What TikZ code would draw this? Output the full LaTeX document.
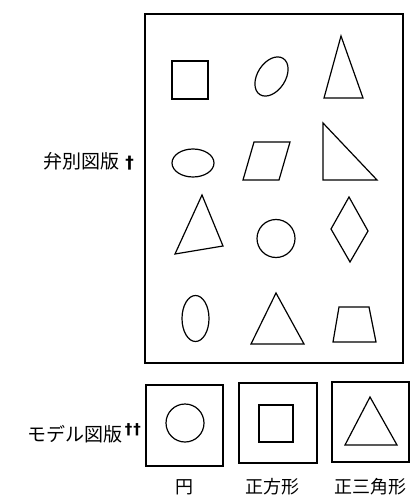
\documentclass[tikz,border=0pt]{standalone}
\usepackage{fontspec}
\newfontfamily\jp{Noto Sans CJK JP}
\newfontfamily\dagfont{DejaVu Sans}
\begin{document}
\begin{tikzpicture}[x=1pt,y=-1pt,
  frame/.style={draw=black,line width=1.4pt},
  shp/.style={draw=black,line width=1.2pt,line join=miter},
  lbl/.style={font=\jp\fontsize{18}{18}\selectfont,inner sep=0pt},
  sidelbl/.style={font=\jp\fontsize{19}{19}\selectfont,inner sep=0pt}]
\useasboundingbox (0,0) rectangle (417,502);
% main board
\draw[frame] (145,14) rectangle (403,363);
% row 1
\draw[shp] (172,61) rectangle (208,99);
\draw[shp,rotate around={57:(271.5,76.5)}] (271.5,76.5) ellipse [x radius=21.5,y radius=14];
\draw[shp] (341,36) -- (363,98) -- (324,98) -- cycle;
% row 2
\draw[shp] (193,163) ellipse [x radius=21,y radius=14];
\draw[shp] (254,142) -- (290,142) -- (279,180) -- (243,180) -- cycle;
\draw[shp] (323,123) -- (377,180) -- (323,180) -- cycle;
% row 3
\draw[shp] (202,195) -- (223,246) -- (175,254) -- cycle;
\draw[shp] (276,238.5) circle [radius=19];
\draw[shp] (349,197) -- (368,231) -- (350,262) -- (331,229) -- cycle;
% row 4
\draw[shp] (195.5,318.5) ellipse [x radius=13.5,y radius=23];
\draw[shp] (276,293) -- (304,344) -- (251,344) -- cycle;
\draw[shp] (339,307) -- (369,307) -- (376,342) -- (333,342) -- cycle;
% model boards
\draw[frame] (146,385) rectangle (223,466);
\draw[frame] (239,383) rectangle (317,463);
\draw[frame] (332,382) rectangle (409,462);
\draw[shp] (185,423) circle [radius=19];
\draw[shp] (259,405) rectangle (293,442);
\draw[shp] (370,397) -- (397,445) -- (345,445) -- cycle;
% labels
\node[sidelbl,anchor=east] (benbetsu) at (134,161) {弁別図版\hspace{6pt}{\dagfont\bfseries\fontsize{17}{17}\selectfont †}};
\node[sidelbl,anchor=east] (model) at (141,433) {モデル図版\hspace{2pt}\raisebox{0.35em}{\dagfont\bfseries\fontsize{15}{15}\selectfont †\hspace{1pt}†}};
\node[lbl] (en) at (184,487) {円};
\node[lbl] (seiho) at (272,487) {正方形};
\node[lbl] (seisan) at (370,487) {正三角形};
\end{tikzpicture}
\end{document}
